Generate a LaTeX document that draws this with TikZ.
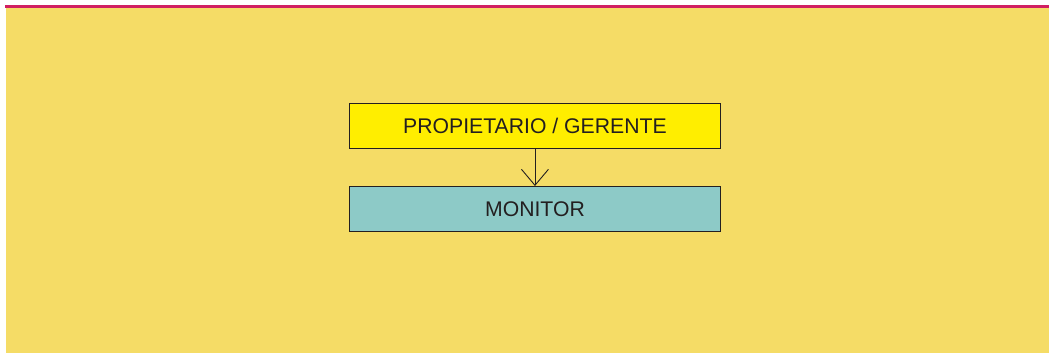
\documentclass[tikz,border=0pt]{standalone}
\usepackage{fontspec}
\setmainfont{Liberation Sans}
\usetikzlibrary{arrows.meta}
\definecolor{bgyellow}{RGB}{245,220,102}
\definecolor{boxyellow}{RGB}{255,238,0}
\definecolor{boxteal}{RGB}{141,202,199}
\definecolor{topline}{RGB}{208,32,98}
\definecolor{ink}{RGB}{35,31,32}
\tikzset{
  box/.style={draw=ink, line width=0.9pt, minimum width=371pt, minimum height=45pt, inner sep=0pt,
    font=\fontsize{21.2}{24}\selectfont, text=ink, anchor=north west},
  link/.style={draw=ink, line width=0.9pt, -{Straight Barb[length=16pt,width=27pt,line width=0.9pt]}}
}
\begin{document}
\begin{tikzpicture}[x=1pt,y=-1pt]
\useasboundingbox (0,0) rectangle (1049,353);
\fill[white] (0,0) rectangle (1049,353);
\fill[bgyellow] (6,8) rectangle (1049,353);
\fill[topline] (5,4.8) rectangle (1049,8.3);
\node[box, fill=boxyellow] (prop) at (349,103.3) {PROPIETARIO / GERENTE};
\node[box, fill=boxteal] (mon) at (349,186) {MONITOR};
\draw[link] (prop.south) -- (mon.north);
\end{tikzpicture}
\end{document}
